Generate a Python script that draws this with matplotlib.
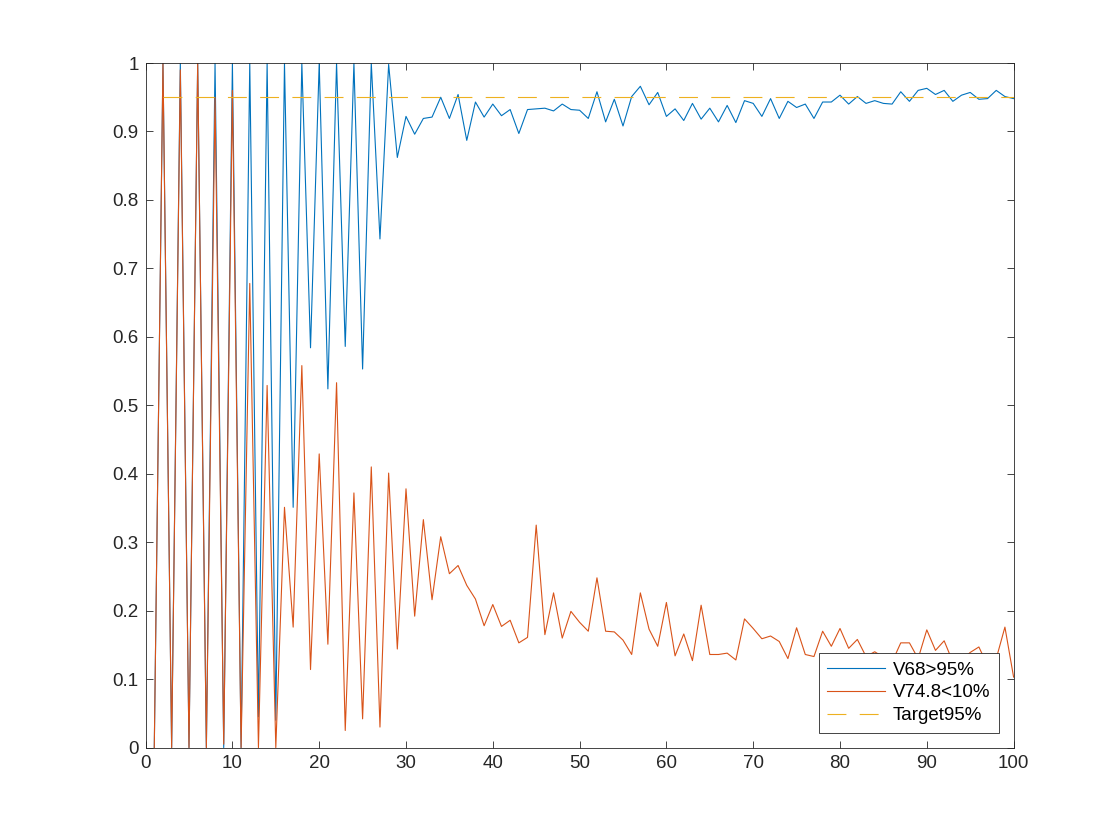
import numpy as np
import matplotlib
matplotlib.use("Agg")
import matplotlib.pyplot as plt

plt.rcParams['font.family'] = ['Liberation Sans', 'DejaVu Sans']

# sample index 1..100
x = np.arange(1, 101)

v68 = [0, 1, 0, 1, 0, 1, 0, 1, 0, 1,
       0, 1, 0.045, 1, 0.04, 1, 0.351, 1, 0.584, 1,
       0.524, 1, 0.586, 1, 0.553, 1, 0.743, 0.998, 0.862, 0.922,
       0.896, 0.919, 0.921, 0.950, 0.919, 0.954, 0.887, 0.943, 0.921, 0.940,
       0.923, 0.932, 0.897, 0.932, 0.933, 0.934, 0.930, 0.940, 0.932, 0.931,
       0.919, 0.958, 0.914, 0.947, 0.908, 0.951, 0.966, 0.939, 0.957, 0.922,
       0.933, 0.916, 0.941, 0.918, 0.934, 0.914, 0.938, 0.913, 0.945, 0.941,
       0.922, 0.948, 0.919, 0.944, 0.935, 0.940, 0.919, 0.943, 0.943, 0.953,
       0.940, 0.951, 0.941, 0.945, 0.941, 0.940, 0.958, 0.944, 0.960, 0.963,
       0.954, 0.960, 0.944, 0.953, 0.957, 0.947, 0.948, 0.960, 0.951, 0.948]

v748 = [0, 1, 0, 0.99, 0, 1, 0, 0.95, 0.005, 0.96,
        0, 0.678, 0, 0.529, 0, 0.351, 0.176, 0.558, 0.114, 0.429,
        0.151, 0.533, 0.025, 0.372, 0.042, 0.410, 0.030, 0.401, 0.144, 0.378,
        0.192, 0.333, 0.216, 0.308, 0.254, 0.266, 0.237, 0.217, 0.178, 0.209,
        0.177, 0.186, 0.153, 0.161, 0.325, 0.165, 0.226, 0.160, 0.199, 0.183,
        0.170, 0.248, 0.170, 0.169, 0.157, 0.136, 0.226, 0.173, 0.148, 0.212,
        0.134, 0.166, 0.127, 0.208, 0.136, 0.136, 0.138, 0.128, 0.188, 0.174,
        0.159, 0.163, 0.155, 0.130, 0.175, 0.136, 0.133, 0.170, 0.148, 0.174,
        0.145, 0.158, 0.133, 0.140, 0.132, 0.125, 0.153, 0.153, 0.130, 0.172,
        0.142, 0.156, 0.125, 0.128, 0.139, 0.147, 0.120, 0.130, 0.176, 0.103]

target_x = np.arange(2, 101)
target = 0.95

labels = ['V68>95%', 'V74.8<10%', 'Target95%']

fig = plt.figure(figsize=(11.2, 8.4), dpi=100)
ax = fig.add_axes([0.13, 0.11, 0.775, 0.815])

ax.plot(x, v68, color='#0072BD', lw=0.8, label=labels[0])
ax.plot(x, v748, color='#D95319', lw=0.8, label=labels[1])
ax.plot(target_x, np.full(len(target_x), target), color='#EDB120', lw=0.8,
        dashes=(17, 12), label=labels[2])

ax.set_xlim(0, 100)
ax.set_ylim(0, 1)
ax.set_xticks(np.arange(0, 101, 10))
ax.set_yticks(np.arange(0, 1.01, 0.1))
ax.set_yticklabels(['0', '0.1', '0.2', '0.3', '0.4', '0.5', '0.6', '0.7', '0.8', '0.9', '1'])

ax.tick_params(direction='in', length=5, width=0.6, top=True, right=True,
               labelsize=13.5, colors='#262626', pad=5)
for s in ax.spines.values():
    s.set_linewidth(0.6)
    s.set_color('#262626')

leg = ax.legend(loc='lower right', bbox_to_anchor=(0.983, 0.022), borderaxespad=0,
                fontsize=13.5, fancybox=False, framealpha=1, edgecolor='#262626',
                handlelength=3.1, handletextpad=0.4, borderpad=0.45, labelspacing=0.3)
leg.get_frame().set_linewidth(0.6)

fig.savefig('out.png', dpi=100)
